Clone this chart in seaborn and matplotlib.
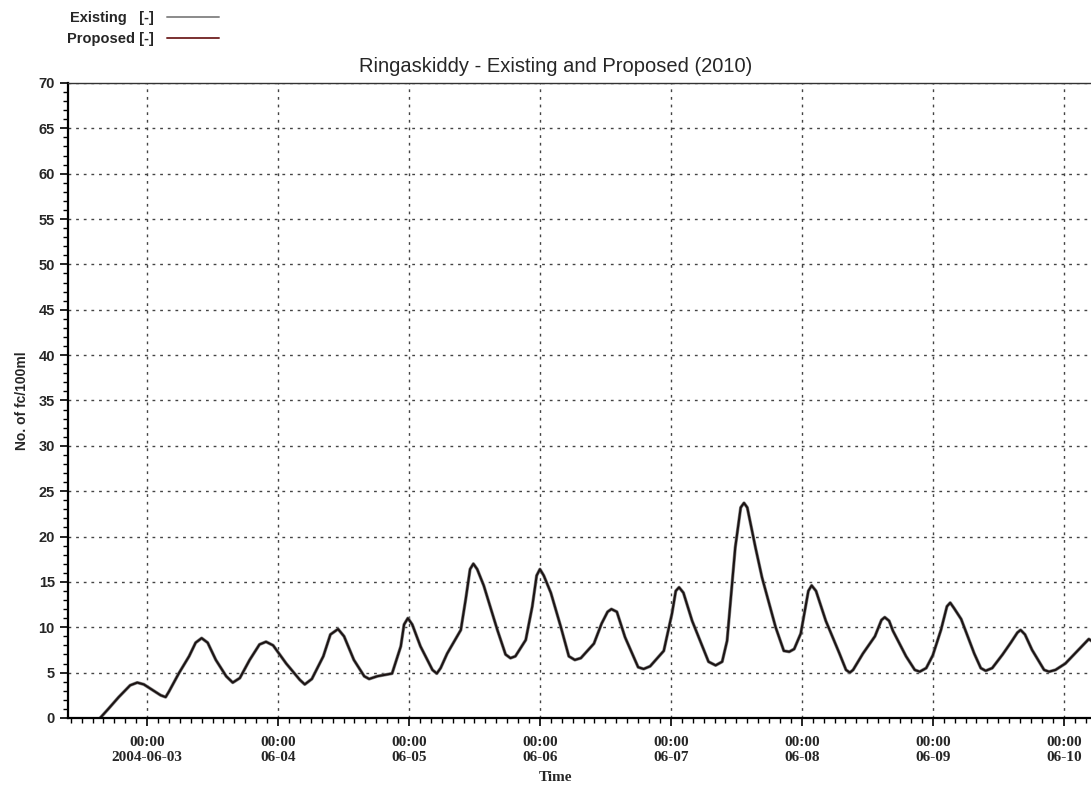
import matplotlib
matplotlib.use('Agg')
import matplotlib.pyplot as plt
import matplotlib.dates as mdates
import seaborn as sns
import pandas as pd
from matplotlib.ticker import MultipleLocator, FuncFormatter

# hours after 2004-06-03 00:00
hours = [-8.6, -7.1, -5.2, -3.1, -1.8, -0.6, 2.5, 3.4, 4.0, 5.8, 7.7, 8.9, 10.0, 11.1,
         12.6, 14.5, 15.7, 17.0, 18.8, 20.6, 21.8, 23.1, 25.5, 28.0, 28.9, 30.2, 32.3,
         33.6, 35.0, 36.1, 37.9, 39.8, 40.7, 42.2, 44.9, 46.5, 47.1, 47.8, 48.6, 50.1,
         52.3, 53.1, 53.8, 55.0, 57.5, 58.4, 59.2, 59.8, 60.5, 61.7, 64.2, 65.7, 66.6,
         67.5, 69.4, 70.6, 71.4, 72.0, 72.7, 74.0, 75.8, 77.3, 78.4, 79.5, 81.9, 83.3,
         84.4, 85.1, 86.1, 87.6, 90.0, 91.0, 92.2, 94.7, 96.2, 96.9, 97.5, 98.3, 99.9,
         102.9, 104.2, 105.4, 106.3, 107.8, 108.8, 109.4, 110.0, 111.5, 112.7, 115.2,
         116.7, 117.7, 118.6, 119.8, 121.2, 121.8, 122.6, 124.4, 126.9, 128.1, 128.8,
         129.4, 131.2, 133.4, 134.6, 135.2, 136.0, 136.7, 139.1, 140.7, 141.6, 142.8,
         144.0, 145.5, 146.6, 147.2, 147.9, 149.2, 151.6, 152.8, 153.7, 154.9, 156.8,
         158.3, 159.5, 160.1, 160.9, 162.2, 164.4, 165.3, 166.5, 168.3, 170.7, 172.6,
         173.3]
existing = [0.0, 1.0, 2.3, 3.6, 3.9, 3.7, 2.5, 2.3, 2.9, 4.9, 6.8, 8.3, 8.8, 8.3,
            6.4, 4.6, 3.9, 4.4, 6.4, 8.1, 8.4, 8.0, 6.0, 4.2, 3.7, 4.3, 6.8,
            9.2, 9.8, 9.0, 6.4, 4.6, 4.3, 4.6, 4.9, 7.9, 10.3, 11.0, 10.3, 7.9,
            5.3, 4.9, 5.5, 7.1, 9.7, 13.1, 16.4, 17.0, 16.4, 14.6, 9.7, 7.0, 6.6,
            6.8, 8.6, 12.3, 15.7, 16.4, 15.7, 13.8, 10.1, 6.8, 6.4, 6.6, 8.2, 10.4,
            11.7, 12.0, 11.7, 8.9, 5.6, 5.4, 5.7, 7.4, 11.5, 14.0, 14.4, 13.8, 10.7,
            6.2, 5.8, 6.2, 8.5, 18.8, 23.2, 23.7, 23.2, 18.8, 15.5, 10.0,
            7.4, 7.3, 7.6, 9.3, 14.0, 14.6, 14.0, 10.7, 7.1, 5.3, 5.0,
            5.3, 7.1, 9.0, 10.8, 11.1, 10.7, 9.6, 6.8, 5.3, 5.1, 5.5,
            6.9, 9.7, 12.3, 12.7, 12.1, 10.9, 7.1, 5.5, 5.2, 5.5, 7.0,
            8.3, 9.4, 9.7, 9.2, 7.5, 5.3, 5.1, 5.3, 6.0, 7.5, 8.7,
            8.4]
# the two runs sit on top of each other in the picture
proposed = list(existing)

start = pd.Timestamp('2004-06-03 00:00')
times = start + pd.to_timedelta(hours, unit='h')

sns.set_style('white')
plt.rcParams['font.family'] = ['Liberation Sans', 'DejaVu Sans']

fig = plt.figure(figsize=(10.91, 7.85), dpi=100)
ax = fig.add_axes([0.0623, 0.0854, 0.9377, 0.8089])

sns.lineplot(x=times, y=existing, ax=ax, color='#8a8a8a', linewidth=2.4, label='Existing   [-]')
sns.lineplot(x=times, y=proposed, ax=ax, color='#1c1414', linewidth=1.5, label='Proposed [-]')

ax.set_xlim(start - pd.Timedelta(hours=14.5), start + pd.Timedelta(hours=173.0))
ax.set_ylim(0, 70)

ax.xaxis.set_major_locator(mdates.DayLocator())
ax.xaxis.set_minor_locator(mdates.HourLocator(byhour=range(0, 24, 2)))


def day_label(x, pos):
    d = mdates.num2date(x)
    if d.day == 3:
        return '00:00\n' + d.strftime('%Y-%m-%d')
    return '00:00\n' + d.strftime('%m-%d')


ax.xaxis.set_major_formatter(FuncFormatter(day_label))
ax.yaxis.set_major_locator(MultipleLocator(5))
ax.yaxis.set_minor_locator(MultipleLocator(1))

ax.grid(True, which='major', color='#444444', linestyle=(0, (2, 3.5)), linewidth=1.0)
ax.tick_params(axis='both', which='major', direction='out', length=6, width=1.2, color='black')
ax.tick_params(axis='both', which='minor', direction='out', length=3.5, width=1.0, color='black')
ax.tick_params(axis='x', which='both', bottom=True)
ax.tick_params(axis='x', which='major', pad=7)
ax.tick_params(axis='y', which='both', left=True)

for lab in ax.get_xticklabels():
    lab.set_family(['Liberation Serif', 'DejaVu Serif'])
    lab.set_fontweight('bold')
    lab.set_fontsize(11)
    lab.set_linespacing(1.15)
for lab in ax.get_yticklabels():
    lab.set_family(['Liberation Sans Narrow', 'Liberation Sans', 'DejaVu Sans'])
    lab.set_fontweight('bold')
    lab.set_fontsize(10.5)

for side in ['left', 'bottom']:
    ax.spines[side].set_color('black')
    ax.spines[side].set_linewidth(1.6)
ax.spines['top'].set_color('#333333')
ax.spines['top'].set_linewidth(1.0)
ax.spines['right'].set_visible(False)

ax.set_title('Ringaskiddy - Existing and Proposed (2010)', fontsize=14.5, pad=8, x=0.477)
ax.set_ylabel('No. of fc/100ml', fontsize=10, fontweight='bold',
              family=['Liberation Sans Narrow', 'Liberation Sans', 'DejaVu Sans'])
ax.yaxis.set_label_coords(-0.038, 0.5)
ax.set_xlabel('Time', fontsize=11, fontweight='bold', family=['Liberation Serif', 'DejaVu Serif'])
ax.xaxis.set_label_coords(0.477, -0.083)

leg = ax.legend(loc='upper left', bbox_to_anchor=(0.049, 1.003), bbox_transform=fig.transFigure,
                frameon=False, markerfirst=False, handlelength=3.6, labelspacing=0.5,
                handletextpad=0.9, prop={'weight': 'bold', 'size': 10.5})
leg.get_lines()[1].set_color('#7a3030')
leg.get_lines()[1].set_linewidth(1.4)
leg.get_lines()[0].set_linewidth(1.4)

fig.savefig('out.png', dpi=100)
